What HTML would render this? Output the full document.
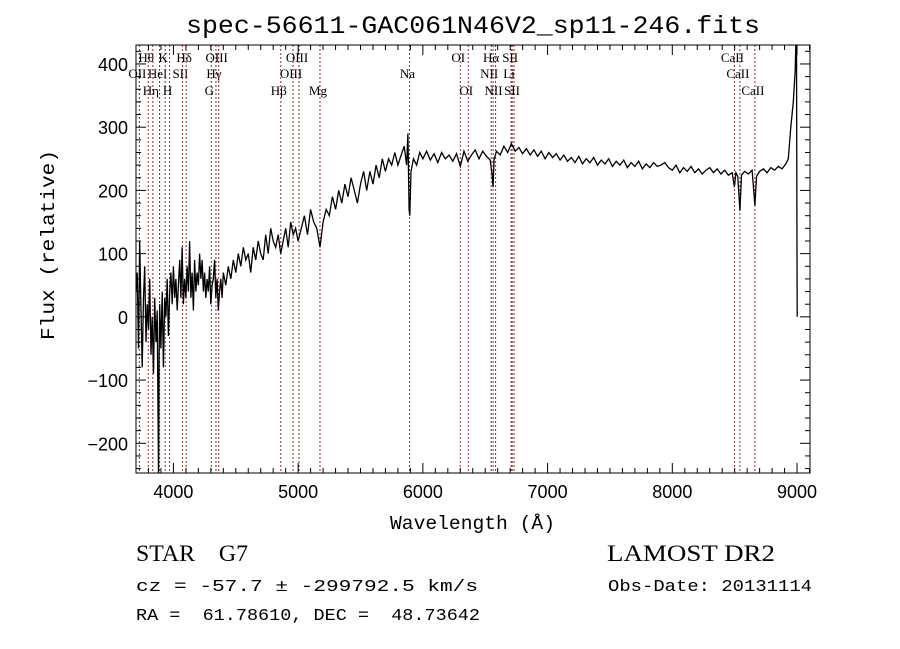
<!DOCTYPE html>
<html><head><meta charset="utf-8"><style>
html,body{margin:0;padding:0;background:#fff;width:900px;height:649px;overflow:hidden}
svg{display:block}
text{white-space:pre}
</style></head><body>
<svg id="chart" width="900" height="649" xmlns="http://www.w3.org/2000/svg">
<defs><clipPath id="pc"><rect x="136" y="45" width="674" height="428"/></clipPath></defs>
<text x="186" y="33" textLength="574" lengthAdjust="spacingAndGlyphs" font-family="Liberation Mono, monospace" font-size="25">spec-56611-GAC061N46V2_sp11-246.fits</text>
<g id="lines"></g>
<g id="series" clip-path="url(#pc)"></g>
<rect x="136" y="45" width="674" height="428" fill="none" stroke="#000" stroke-width="1"/>
<g id="axes"></g>
<text x="390" y="529" textLength="165" lengthAdjust="spacingAndGlyphs" font-family="Liberation Mono, monospace" font-size="19">Wavelength (Å)</text>
<text transform="translate(54,340) rotate(-90)" textLength="190" lengthAdjust="spacingAndGlyphs" font-family="Liberation Mono, monospace" font-size="19">Flux (relative)</text>
<text x="136" y="561" textLength="112" lengthAdjust="spacingAndGlyphs" font-family="Liberation Serif, serif" font-size="23">STAR    G7</text>
<text x="136" y="591" textLength="342" lengthAdjust="spacingAndGlyphs" font-family="Liberation Mono, monospace" font-size="17">cz = -57.7 ± -299792.5 km/s</text>
<text x="136" y="620" textLength="344" lengthAdjust="spacingAndGlyphs" font-family="Liberation Mono, monospace" font-size="17">RA =  61.78610, DEC =  48.73642</text>
<text x="607" y="561" textLength="168" lengthAdjust="spacingAndGlyphs" font-family="Liberation Serif, serif" font-size="23">LAMOST DR2</text>
<text x="608" y="591" textLength="204" lengthAdjust="spacingAndGlyphs" font-family="Liberation Mono, monospace" font-size="17">Obs-Date: 20131114</text>
</svg>
<script>
const wl=[3700,3710,3720,3730,3740,3750,3760,3770,3780,3790,3800,3810,3820,3830,3840,3850,3860,3870,3880,3885,3890,3900,3910,3920,3930,3940,3950,3960,3970,3980,3990,4000,4010,4020,4030,4040,4050,4060,4070,4080,4090,4100,4110,4120,4130,4140,4150,4160,4170,4180,4190,4200,4210,4220,4230,4240,4250,4260,4270,4280,4290,4300,4310,4320,4330,4340,4350,4360,4370,4380,4390,4400,
4420,4440,4460,4480,4500,4520,4540,4560,4580,4600,4620,4640,4660,4680,4700,4720,4740,4760,4780,4800,4820,4840,4860,4880,4900,4920,4940,4960,4980,5000,
5025,5050,5075,5100,5125,5150,5175,5200,5225,5250,5275,5300,5325,5350,5375,5400,5425,5450,5475,5500,5525,5550,5575,5600,5625,5650,5675,5700,5725,5750,5775,5800,5825,5850,5870,5880,5890,5895,5905,5925,5950,5975,
6000,6030,6060,6090,6120,6150,6180,6210,6240,6270,6300,6330,6360,6390,6420,6450,6480,6510,6540,6555,6563,6570,6590,6620,6650,6680,6710,6740,6770,6800,6830,6860,6890,6920,6950,6980,7010,7040,7070,7100,7130,7160,7190,7220,7250,7280,7310,7340,7370,7400,7430,7460,7490,7520,7550,7580,7610,7640,7670,7700,7730,7760,7790,7820,7850,7880,7910,7940,7970,8000,8030,8060,8090,8120,8150,8180,8210,8240,8270,8300,8330,8360,8390,8420,8450,8480,8498,8510,8525,8542,8555,8580,8610,8640,8662,8675,8700,8730,8760,8790,8820,8850,8880,8910,8930,8950,8970,8985,8992,8996,9000,9001];
const flux=[40,70,-50,120,10,-80,30,80,-40,20,-20,60,-60,0,-90,30,-40,10,-250,-60,20,-50,40,-80,30,0,60,-30,40,70,20,80,30,60,10,50,90,30,110,20,60,30,80,40,120,30,70,10,90,40,70,50,100,60,90,40,70,30,60,40,80,20,50,60,90,30,60,10,40,60,30,70,
50,80,60,90,70,100,80,110,90,100,70,110,90,120,100,90,130,100,140,120,110,130,100,120,140,110,150,130,140,120,
140,160,130,170,150,140,110,150,170,160,190,170,200,180,210,190,220,200,180,210,230,200,230,210,240,220,250,230,250,240,260,240,255,270,240,290,170,160,230,250,240,260,
250,262,248,258,244,260,250,256,246,258,238,262,246,256,264,250,262,254,248,225,205,248,262,256,270,260,274,262,268,258,266,256,264,254,262,250,260,252,258,248,256,246,252,244,254,242,250,244,252,240,248,242,250,238,246,240,248,236,244,238,246,234,242,236,244,238,240,244,236,232,240,228,236,230,238,228,234,226,232,236,228,234,226,232,224,228,205,228,222,168,224,230,226,232,176,222,230,234,228,236,232,238,234,242,250,300,340,390,440,430,100,0];
const lineWl=[3727,3798,3835,3889,3934,3969,4072,4102,4304,4341,4363,4861,4959,5007,5175,5893,6300,6364,6548,6563,6583,6707,6716,6731,8498,8542,8662];
const lineLbl=["OII","Hθ","Hη","HeI","K","H","SII","Hδ","G","Hγ","OIII","Hβ","OIII","OIII","Mg","Na","OI","OI","NII","Hα","NII","Li","SII","SII","CaII","CaII","CaII"];
const lineRow=[1,0,2,1,0,2,1,0,2,1,0,2,1,0,2,1,0,2,1,0,2,1,0,2,0,1,2];
const xTicks=[4000,5000,6000,7000,8000,9000];
const yTicks=[-200,-100,0,100,200,300,400];
const X0=3700,X1=9104,Y0=-247,Y1=430,L=136,R=810,T=45,B=473;
const sx=w=>L+(w-X0)/(X1-X0)*(R-L);
const sy=f=>B-(f-Y0)/(Y1-Y0)*(B-T);
const NS="http://www.w3.org/2000/svg";
function mk(tag,attrs,parent){const e=document.createElementNS(NS,tag);for(const k in attrs)e.setAttribute(k,attrs[k]);parent.appendChild(e);return e;}
const lg=document.getElementById('lines');
const rowY=[62,78,95];
lineWl.forEach((w,i)=>{
  const l=mk('line',{x1:sx(w),x2:sx(w),y1:T,y2:B,stroke:'#8b2a2a','stroke-width':1,'stroke-dasharray':'2,2'},lg);
  
  
  const t=mk('text',{x:sx(w)-2,y:rowY[lineRow[i]],'text-anchor':'middle','font-family':'Liberation Serif, serif','font-size':13},lg);
  t.textContent=lineLbl[i];
  
  
});
const sg=document.getElementById('series');
const p=mk('polyline',{points:wl.map((w,i)=>sx(w).toFixed(1)+','+sy(flux[i]).toFixed(1)).join(' '),fill:'none',stroke:'#000','stroke-width':1.3},sg);


const ax=document.getElementById('axes');
for(let w=3800;w<=9100;w+=100){
  const maj=w%1000===0,len=maj?10:5,x=sx(w);
  mk('line',{x1:x,x2:x,y1:B,y2:B-len,stroke:'#000'},ax);
  mk('line',{x1:x,x2:x,y1:T,y2:T+len,stroke:'#000'},ax);
}
xTicks.forEach(w=>{const t=mk('text',{x:sx(w),y:B+25,'text-anchor':'middle','font-family':'Liberation Sans, sans-serif','font-size':18},ax);t.textContent=w;

});
for(let f=-240;f<=420;f+=20){
  const maj=f%100===0,len=maj?10:5,y=sy(f);
  mk('line',{x1:L,x2:L+len,y1:y,y2:y,stroke:'#000'},ax);
  mk('line',{x1:R,x2:R-len,y1:y,y2:y,stroke:'#000'},ax);
}
yTicks.forEach(f=>{const t=mk('text',{x:L-8,y:sy(f)+7,'text-anchor':'end','font-family':'Liberation Sans, sans-serif','font-size':18},ax);t.textContent=f===0?'0':(f<0?'−'+(-f):f);

});
</script>
</body></html>
